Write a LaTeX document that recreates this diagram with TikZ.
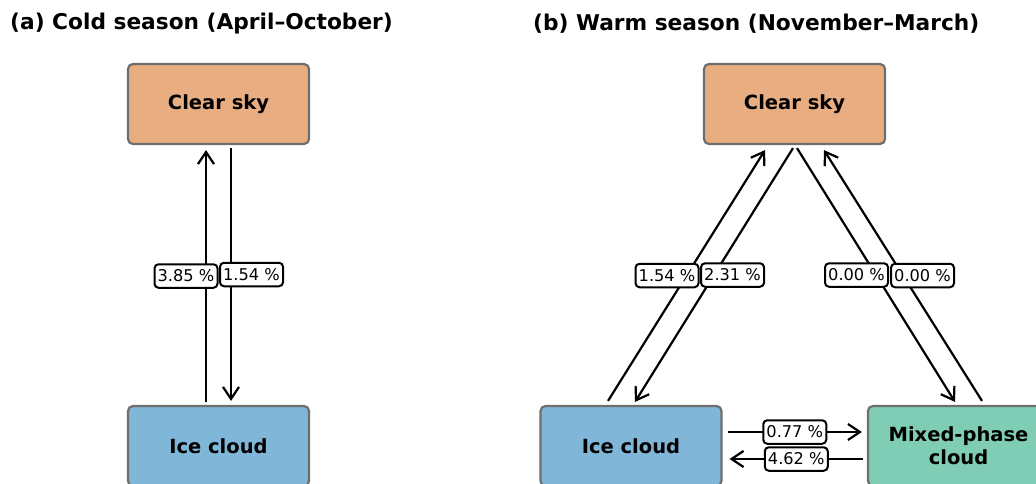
\documentclass[tikz,border=0pt]{standalone}
\usepackage{fontspec}
\setmainfont{DejaVu Sans}
\usetikzlibrary{arrows.meta}
\definecolor{clearc}{HTML}{E8AD80}
\definecolor{icec}{HTML}{80B6D7}
\definecolor{mixc}{HTML}{7ECDB4}
\definecolor{boxedge}{HTML}{6E6E6E}
\begin{document}
\begin{tikzpicture}[x=1pt,y=-1pt,
  state/.style={draw=boxedge, line width=2.2pt, rounded corners=5pt, minimum width=181pt, minimum height=80pt, inner sep=0pt, align=center, font=\fontsize{19.5}{23.2}\selectfont\bfseries},
  pct/.style={draw=black, fill=white, line width=2pt, rounded corners=4pt, minimum width=63pt, minimum height=23.5pt, inner sep=0pt, font=\fontsize{16.2}{18}\selectfont},
  flow/.style={line width=2.2pt, -{Straight Barb[length=12pt,width=16pt,line width=2.2pt]}},
  ttl/.style={anchor=west, inner sep=0pt, font=\fontsize{21.7}{26}\selectfont\bfseries}]
\useasboundingbox (0,0) rectangle (1036,483);
\clip (0,0) rectangle (1036,483);

\node[ttl] (tA) at (10,24) {(a) Cold season (April–October)};
\node[ttl] (tB) at (533,24) {(b) Warm season (November–March)};

\node[state, fill=clearc] (clearA) at (218.5,104) {Clear sky};
\node[state, fill=icec] (iceA) at (218.5,446) {Ice cloud};
\node[state, fill=clearc] (clearB) at (794.5,104) {Clear sky};
\node[state, fill=icec] (iceB) at (631,446) {Ice cloud};
\node[state, fill=mixc] (mixB) at (958.5,446) {Mixed-phase\\cloud};

% (a)
\draw[flow] ([xshift=-12.5pt,yshift=3pt]iceA.north) -- ([xshift=-12.5pt,yshift=-5pt]clearA.south)
  node[pct, midway, xshift=-20pt] (lA1) {3.85 \%};
\draw[flow] ([xshift=12.5pt,yshift=-3pt]clearA.south) -- ([xshift=12.5pt,yshift=4pt]iceA.north)
  node[pct, midway, xshift=20.5pt] (lA2) {1.54 \%};

% (b)
\draw[flow] ([xshift=-23pt,yshift=4pt]iceB.north) -- ([xshift=-29.5pt,yshift=-5pt]clearB.south)
  node[pct, midway, xshift=-19.5pt] (lB1) {1.54 \%};
\draw[flow] ([xshift=-1.5pt,yshift=-3pt]clearB.south) -- ([xshift=4pt,yshift=3pt]iceB.north)
  node[pct, midway, xshift=18.5pt] (lB2) {2.31 \%};
\draw[flow] ([xshift=2.5pt,yshift=-3pt]clearB.south) -- ([xshift=-3.5pt,yshift=3pt]mixB.north)
  node[pct, midway, xshift=-19.5pt] (lB3) {0.00 \%};
\draw[flow] ([xshift=23.5pt,yshift=4pt]mixB.north) -- ([xshift=29.5pt,yshift=-5pt]clearB.south)
  node[pct, midway, xshift=19.5pt] (lB4) {0.00 \%};
\draw[flow] ([xshift=5pt,yshift=14pt]iceB.east) -- ([xshift=-5pt,yshift=14pt]mixB.west)
  node[pct, midway] (lB5) {0.77 \%};
\draw[flow] ([xshift=-4pt,yshift=-13pt]mixB.west) -- ([xshift=7pt,yshift=-13pt]iceB.east)
  node[pct, midway] (lB6) {4.62 \%};
\end{tikzpicture}
\end{document}
